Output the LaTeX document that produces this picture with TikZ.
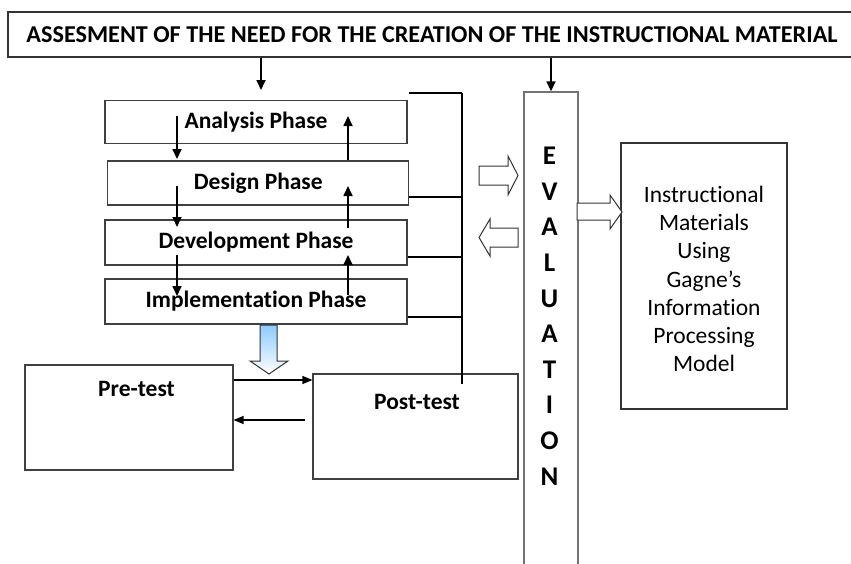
\documentclass[tikz,border=0pt]{standalone}
\usepackage{fontspec}
\setmainfont{Carlito}[Ligatures=NoCommon]
\usetikzlibrary{arrows.meta}
\begin{document}
\begin{tikzpicture}[x=1pt,y=-1pt,
  box/.style={draw=black!75, line width=1.1pt, inner sep=0pt},
  phase/.style={box, minimum width=302pt, minimum height=44pt, font=\fontsize{23.5}{28}\selectfont\bfseries},
  arr/.style={line width=1.7pt, -{Triangle[length=10pt,width=9pt]}},
  thinarr/.style={line width=1.2pt, -{Triangle[length=10pt,width=8pt]}},
  hollow/.style={draw=black!80, line width=1pt, fill=white, line join=miter},
  boldtxt/.style={font=\fontsize{23.5}{28}\selectfont\bfseries, inner sep=0pt},
]
\useasboundingbox (0,0) rectangle (851,563);

% top box
\node[box, draw=black!80, minimum width=848pt, minimum height=45pt,
      font=\fontsize{24.2}{28}\selectfont\bfseries] (top) at (432,34.5)
      {ASSESMENT OF THE NEED FOR THE CREATION OF THE INSTRUCTIONAL MATERIAL};

% phase boxes
\node[phase, minimum height=43pt] (analysis) at (256,122.3) {Analysis Phase};
\node[phase, minimum width=301pt] (design) at (258.3,183) {Design Phase};
\node[phase, minimum height=45pt] (development) at (256,242.5) {Development Phase};
\node[phase, minimum height=45pt] (implementation) at (256,301.5) {Implementation Phase};

% evaluation column
\node[box, draw=black!55, line width=1.4pt, minimum width=54pt, minimum height=485pt] (eval) at (551,334.5) {};
\foreach \l [count=\i] in {E,V,A,L,U,A,T,I,O,N}
  \node[font=\fontsize{27}{30}\selectfont\bfseries, inner sep=0pt] (ev\i) at (549.5,{156+35.6*(\i-1)}) {\l};

% instructional materials box
\node[box, draw=black!80, line width=1.3pt, minimum width=166pt, minimum height=266pt] (instr) at (704,276) {};
\node[align=center, font=\fontsize{23.5}{28.2}\selectfont, inner sep=0pt] (instrtxt) at (704,279) 
  {Instructional\\Materials\\Using\\Gagne’s\\Information\\Processing\\Model};

% pre/post test boxes
\node[box, minimum width=208pt, minimum height=105pt] (pre) at (129,417.5) {};
\node[boldtxt] (pretxt) at (136.5,389) {Pre-test};
\node[box, minimum width=205pt, minimum height=105pt] (post) at (415.5,426.5) {};
\node[boldtxt] (posttxt) at (417,401.6) {Post-test};

% arrows from top box
\coordinate (a1end) at (261,90);
\draw[arr] (top.south -| a1end) -- (a1end);
\draw[arr] (top.south -| eval.north) -- (eval.north);

% internal down arrows
\coordinate (d1s) at (177,116); \coordinate (d1e) at (177,159);
\coordinate (d2s) at (177,186); \coordinate (d2e) at (177,227);
\coordinate (d3s) at (177,255); \coordinate (d3e) at (177,296);
\draw[arr] (d1s) -- (d1e);
\draw[arr] (d2s) -- (d2e);
\draw[arr] (d3s) -- (d3e);
% internal up arrows
\coordinate (u1s) at (348,160); \coordinate (u1e) at (348,116);
\coordinate (u2s) at (348,228); \coordinate (u2e) at (348,186);
\coordinate (u3s) at (348,295); \coordinate (u3e) at (348,255);
\draw[arr] (u1s) -- (u1e);
\draw[arr] (u2s) -- (u2e);
\draw[arr] (u3s) -- (u3e);

% bracket
\coordinate (bt) at (462,93);
\coordinate (bb) at (462,384);
\draw[line width=1.2pt] (409,93) -- (bt);
\draw[line width=1.8pt] (bt) -- (bb);
\draw[line width=1.2pt] (design.east |- 0,197) -- (462,197);
\draw[line width=1.2pt] (development.east |- 0,257) -- (462,257);
\draw[line width=1.2pt] (implementation.east |- 0,317) -- (462,317);

% hollow block arrows
\draw[hollow] (479,166) -- (508,166) -- (508,156) -- (518,175.5) -- (508,195) -- (508,185) -- (479,185) -- cycle;
\draw[hollow] (518,228) -- (490,228) -- (490,219) -- (479,237.5) -- (490,256) -- (490,247) -- (518,247) -- cycle;
\draw[hollow] (577,203) -- (610,203) -- (610,195) -- (622,212) -- (610,229) -- (610,220) -- (577,220) -- cycle;

% blue block arrow
\shadedraw[top color=blue!45!cyan!45!white, bottom color=white, draw=black!80, line width=1pt, line join=miter]
  (260,325) -- (277,325) -- (277,361) -- (288,361) -- (269,374) -- (250,361) -- (260,361) -- cycle;

% pre/post arrows
\draw[thinarr] (pre.east |- 0,380) -- (post.west |- 0,380);
\draw[thinarr] ([xshift=-7pt]post.west |- 0,420) -- (pre.east |- 0,420);
\end{tikzpicture}
\end{document}
